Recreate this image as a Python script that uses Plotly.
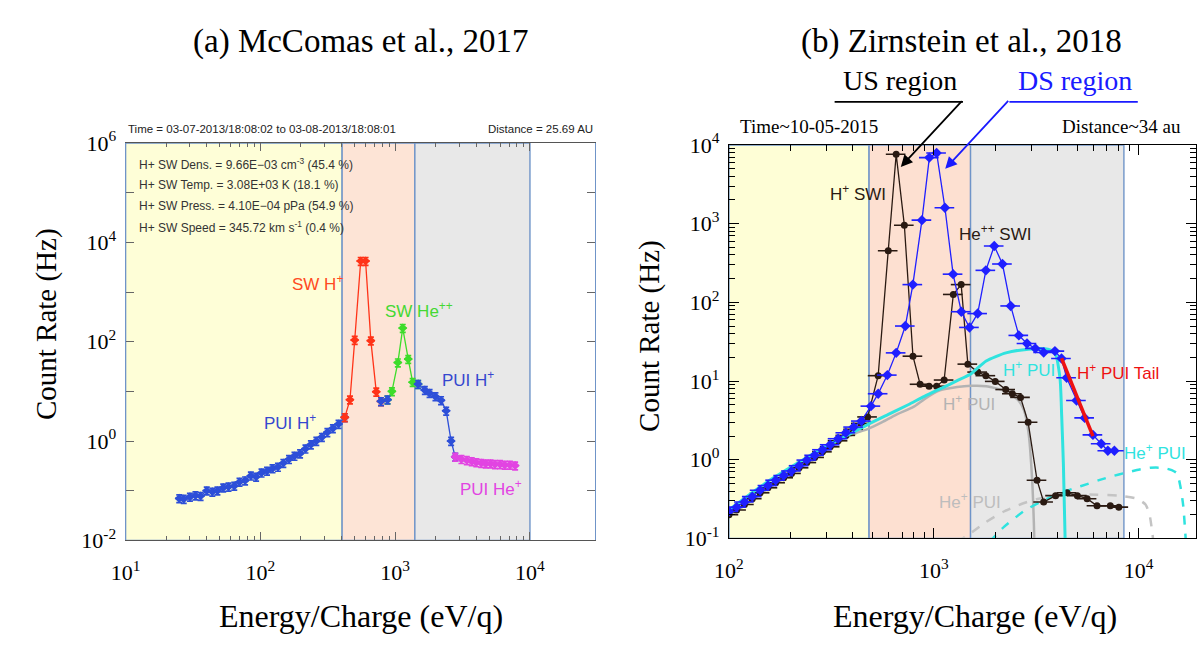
import plotly.graph_objects as go

# ---------------- panel (a): McComas et al., 2017 ----------------
a_region_edges = [10, 404, 1400, 10000]          # eV/q : yellow | orange | gray
a_y_span = [1e-2, 1e6]
a_pui_h_low_E = [25, 27, 30, 33, 36, 40, 44, 48, 53, 58, 64, 70, 77, 85, 93, 102, 112, 123,
                 135, 148, 163, 179, 197, 216, 237, 260, 286, 314, 345, 380, 423]
a_pui_h_low_C = [0.07, 0.068, 0.075, 0.08, 0.078, 0.1, 0.095, 0.1, 0.115, 0.12, 0.125, 0.15, 0.16,
                 0.2, 0.19, 0.23, 0.25, 0.28, 0.3, 0.36, 0.43, 0.5, 0.56, 0.7, 0.85, 1.0, 1.2, 1.5,
                 1.8, 2.2, 3.0]
a_sw_h_E = [423, 462, 501, 555, 603, 660, 724, 785]
a_sw_h_C = [3.0, 6.8, 108, 4200, 4200, 105, 9.8, 6.3]
a_mid_E = [785, 877]
a_mid_C = [6.3, 6.8]
a_sw_he_E = [877, 946, 1047, 1138, 1250, 1348, 1480]
a_sw_he_C = [6.8, 10, 38, 188, 44.6, 15.3, 14]
a_pui_h_high_E = [1480, 1660, 1800, 1990, 2190, 2390, 2600, 2790]
a_pui_h_high_C = [14, 10.6, 9.2, 7.9, 6.6, 4.06, 1.0, 0.48]
a_pui_he_E = [2790, 3100, 3400, 3700, 4000, 4350, 4700, 5100, 5500, 6000, 6500, 7100, 7760]
a_pui_he_C = [0.48, 0.43, 0.41, 0.39, 0.37, 0.36, 0.35, 0.35, 0.34, 0.34, 0.33, 0.33, 0.32]

# ---------------- panel (b): Zirnstein et al., 2018 ----------------
b_region_edges = [100, 483, 1511, 8470]
b_y_span = [1e-1, 1e4]
b_us_E = [100, 109, 119, 130, 142, 155, 169, 185, 202, 220, 240, 262, 286, 312, 341, 372, 406,
          443, 475, 535, 599, 655, 718, 791, 857, 948, 1032, 1123, 1245, 1360, 1466, 1637, 1795,
          1995, 2244, 2417, 2650, 2886, 3190, 3437, 3930, 4470, 5020, 5600, 6260, 7270, 8000]
b_us_C = [0.2, 0.23, 0.27, 0.32, 0.38, 0.44, 0.51, 0.59, 0.67, 0.79, 0.92, 1.07, 1.26, 1.46,
          1.74, 2.04, 2.44, 2.9, 3.5, 11.7, 453, 7600, 955, 20.7, 9.1, 8.6, 8.6, 10.3, 126, 168,
          16.4, 13, 11.7, 9.9, 7.8, 6.9, 6.2, 3.0, 0.55, 0.29, 0.35, 0.38, 0.35, 0.32, 0.26, 0.26,
          0.25]
b_ds_E = [100, 109, 119, 130, 142, 155, 169, 185, 202, 220, 240, 262, 286, 312, 341, 372, 406,
          443, 493, 535, 593, 655, 726, 790, 875, 951, 1032, 1133, 1242, 1362, 1493, 1637, 1795,
          1972, 2163, 2373, 2600, 2850, 3130, 3437, 3900, 4200, 4450, 4970, 5450, 5980, 6560,
          7070, 7610]
b_ds_C = [0.22, 0.25, 0.29, 0.34, 0.41, 0.47, 0.55, 0.63, 0.72, 0.84, 0.99, 1.14, 1.34, 1.55,
          1.85, 2.2, 2.6, 3.1, 4.8, 6.9, 11.9, 22.8, 50, 168, 1107, 6900, 7900, 1590, 228, 76, 48,
          72, 255, 521, 307, 90, 38, 30, 26, 23, 24, 19.3, 11, 5.65, 3.4, 2.07, 1.6, 1.3, 1.3]
b_tail_E = [4200, 5980]
b_tail_C = [19.5, 2.0]
b_hpui_ds_E = [100, 140, 170, 230, 300, 400, 475, 600, 750, 900, 1100, 1300, 1520, 1800, 2250,
               2900, 3600, 3900, 4130, 4210, 4290, 4400]
b_hpui_ds_C = [0.23, 0.44, 0.62, 1.0, 1.5, 2.2, 2.8, 3.77, 5.0, 6.4, 8.2, 10.1, 12.4, 18, 22.8,
               25.4, 25.4, 22.8, 10.8, 3.5, 0.88, 0.05]
b_hpui_us_E = [100, 150, 200, 260, 320, 366, 420, 475, 560, 650, 795, 900, 1070, 1300, 1520,
               1800, 2250, 2600, 2750, 2900, 3020, 3080, 3110]
b_hpui_us_C = [0.19, 0.4, 0.66, 1.0, 1.45, 1.85, 2.2, 2.45, 3.0, 3.7, 4.7, 5.9, 7.6, 8.4, 8.7,
               8.6, 7.4, 5.6, 4.3, 2.2, 0.55, 0.15, 0.05]
b_hepui_us_E = [1300, 1500, 1786, 2200, 2735, 3250, 4200, 5200, 6300, 8000, 9800, 10800, 11300,
                11600, 11800]
b_hepui_us_C = [0.09, 0.115, 0.16, 0.22, 0.28, 0.32, 0.35, 0.36, 0.36, 0.35, 0.32, 0.27, 0.2,
                0.13, 0.09]
b_hepui_ds_E = [1870, 2200, 2735, 3300, 4170, 5200, 6400, 8000, 9800, 11400, 13000, 14500,
                15400, 16000, 16500, 17000]
b_hepui_ds_C = [0.09, 0.14, 0.22, 0.29, 0.38, 0.46, 0.55, 0.65, 0.74, 0.79, 0.79, 0.74, 0.67,
                0.45, 0.26, 0.09]

# ---------------- helpers ----------------
W, H = 1200, 646
SERIF = "Liberation Serif"
SANS = "Liberation Sans"


def P(px, py):
    return px / W, 1 - py / H


def sup(n):
    return "10<sup>%d</sup>" % n


fig = go.Figure()

# ----- region shading (filled polygons in data space) -----
fills_a = ["#fefed7", "#fde4d6", "#e8e8e8"]
fills_b = ["#fefed6", "#fde0d1", "#e8e8e8"]
for edges, span, cols, xa, ya in [(a_region_edges, a_y_span, fills_a, "x", "y"),
                                  (b_region_edges, b_y_span, fills_b, "x2", "y2")]:
    for i in range(3):
        e0, e1 = edges[i], edges[i + 1]
        fig.add_trace(go.Scatter(
            x=[e0, e1, e1, e0, e0], y=[span[0], span[0], span[1], span[1], span[0]],
            xaxis=xa, yaxis=ya, mode="lines", fill="toself", fillcolor=cols[i],
            line=dict(color="#6f94c8", width=1.4), showlegend=False, hoverinfo="skip"))


def data_trace(E, C, color, xa, ya, symbol="diamond", size=6, lw=1.3,
               ex=7, ey=18, ebw=0, eth=1.4):
    fig.add_trace(go.Scatter(
        x=E, y=C, xaxis=xa, yaxis=ya, mode="lines+markers",
        line=dict(color=color, width=lw),
        marker=dict(symbol=symbol, size=size, color=color),
        error_x=dict(type="percent", value=ex, color=color, thickness=eth, width=0),
        error_y=dict(type="percent", value=ey, color=color, thickness=eth, width=ebw),
        showlegend=False, hoverinfo="skip"))


def model_trace(E, C, color, xa, ya, width=3, dash="solid"):
    fig.add_trace(go.Scatter(x=E, y=C, xaxis=xa, yaxis=ya, mode="lines",
                             line=dict(color=color, width=width, dash=dash, shape="spline",
                                       smoothing=0.6),
                             showlegend=False, hoverinfo="skip"))


# ----- panel (a) traces -----
BLUE_A = "#2d4fd8"
for E, C, col in [(a_pui_h_low_E, a_pui_h_low_C, BLUE_A),
                  (a_sw_h_E, a_sw_h_C, "#ff3318"),
                  (a_sw_he_E, a_sw_he_C, "#3ddc2a"),
                  (a_mid_E, a_mid_C, BLUE_A),
                  (a_pui_h_high_E, a_pui_h_high_C, BLUE_A),
                  (a_pui_he_E, a_pui_he_C, "#e244e2")]:
    data_trace(E, C, col, "x", "y", size=7, ebw=3, eth=1.7)

# ----- panel (b) traces -----
BLACK_B = "#2a1a12"
BLUE_B = "#1f1fff"
CYAN = "#2fe3df"
model_trace(b_hpui_us_E, b_hpui_us_C, "#b3b3b3", "x2", "y2", width=2.5)
model_trace(b_hepui_us_E, b_hepui_us_C, "#c4c4c4", "x2", "y2", width=2.5, dash="dash")
model_trace(b_hepui_ds_E, b_hepui_ds_C, CYAN, "x2", "y2", width=2.5, dash="dash")
data_trace(b_us_E, b_us_C, BLACK_B, "x2", "y2", symbol="circle", size=7, ex=11, ey=8, eth=1.6)
model_trace(b_hpui_ds_E, b_hpui_ds_C, CYAN, "x2", "y2", width=3)
data_trace(b_ds_E, b_ds_C, BLUE_B, "x2", "y2", symbol="diamond", size=8, ex=11, ey=8, eth=1.6)
fig.add_trace(go.Scatter(x=b_tail_E, y=b_tail_C, xaxis="x2", yaxis="y2", mode="lines",
                         line=dict(color="#ee1111", width=3.5), showlegend=False,
                         hoverinfo="skip"))

# US / DS callout underlines
shapes = []
for (xa, xb, col) in [(830, 960, "black"), (1007, 1137, "#1a1aff")]:
    x0, y0 = P(xa, 90)
    x1, _ = P(xb, 90)
    shapes.append(dict(type="line", xref="paper", yref="paper", x0=x0, x1=x1, y0=y0, y1=y0,
                       line=dict(color=col, width=1.8)))


# ----- axes -----
def decade_vals(lo, hi, step=1):
    return [10.0 ** k for k in range(lo, hi + 1, step)]


def minor_vals(lo, hi):
    return [m * 10.0 ** k for k in range(lo, hi) for m in range(2, 10)]


axis_common = dict(type="log", showgrid=False, zeroline=False, showline=True,
                   ticks="inside", mirror="ticks",
                   tickfont=dict(family=SERIF, size=22, color="black"))

fig.update_layout(
    xaxis=dict(axis_common, domain=[112 / W, 587 / W], range=[1, 4.48], anchor="y",
               linecolor="#555", tickcolor="#666", ticklen=8,
               tickvals=decade_vals(1, 4), ticktext=[sup(k) for k in range(1, 5)],
               ticklabelstandoff=12,
               minor=dict(tickmode="array", tickvals=minor_vals(1, 4), ticks="inside",
                          ticklen=4, tickcolor="#666")),
    yaxis=dict(axis_common, domain=[1 - 549 / H, 1 - 133 / H], range=[-2, 6], anchor="x",
               linecolor="#6f94c8", tickcolor="#666", ticklen=8,
               tickvals=decade_vals(-2, 6, 2), ticktext=[sup(k) for k in range(-2, 7, 2)],
               ticklabelstandoff=4,
               minor=dict(tickmode="array", tickvals=decade_vals(-1, 5, 2), ticks="inside",
                          ticklen=8, tickcolor="#666")),
    xaxis2=dict(axis_common, domain=[723 / W, 1196 / W], range=[2, 4.28], anchor="y2",
                linecolor="black", tickcolor="black", ticklen=10,
                tickvals=decade_vals(2, 4), ticktext=[sup(k) for k in range(2, 5)],
                ticklabelstandoff=12,
                minor=dict(tickmode="array", tickvals=minor_vals(2, 4), ticks="inside",
                           ticklen=6, tickcolor="black")),
    yaxis2=dict(axis_common, domain=[1 - 547 / H, 1 - 135 / H], range=[-1, 4], anchor="x2",
                linecolor="black", tickcolor="black", ticklen=10,
                tickvals=decade_vals(-1, 4), ticktext=[sup(k) for k in range(-1, 5)],
                ticklabelstandoff=4,
                minor=dict(tickmode="array", tickvals=minor_vals(-1, 4), ticks="inside",
                           ticklen=6, tickcolor="black")),
    width=W, height=H, margin=dict(l=0, r=0, t=0, b=0),
    paper_bgcolor="white", plot_bgcolor="white", showlegend=False,
    shapes=shapes,
)

# ----- annotations -----
ann = []


def text(px, py, s, size, color="black", family=SERIF, xanchor="center", angle=0):
    x, y = P(px, py)
    ann.append(dict(x=x, y=y, xref="paper", yref="paper", text=s, showarrow=False,
                    xanchor=xanchor, yanchor="middle", textangle=angle,
                    font=dict(family=family, size=size, color=color)))


# titles
text(350, 27, "(a) McComas et al., 2017", 33)
text(958, 27, "(b) Zirnstein et al., 2018", 33)
# axis titles
text(32, 323, "Count Rate (Hz)", 29, angle=-90)
text(643, 335, "Count Rate (Hz)", 29, angle=-90)
text(350, 628, "Energy/Charge (eV/q)", 32)
text(972, 628, "Energy/Charge (eV/q)", 32)

# panel (a) header + parameters
text(112, 118, "Time = 03-07-2013/18:08:02 to 03-08-2013/18:08:01", 11.5, "#222", SANS, "left")
text(587, 118, "Distance = 25.69 AU", 11.5, "#222", SANS, "right")
for i, s in enumerate(["H+ SW Dens. = 9.66E\u221203 cm<sup>-3</sup> (45.4 %)",
                       "H+ SW Temp. = 3.08E+03 K (18.1 %)",
                       "H+ SW Press. = 4.10E\u221204 pPa (54.9 %)",
                       "H+ SW Speed = 345.72 km s<sup>-1</sup> (0.4 %)"]):
    text(124, 155 + i * 22, s, 12, "#333", SANS, "left")

# panel (a) species labels
text(306, 280, "SW H<sup>+</sup>", 17, "#ff4a22", SANS)
text(409, 308, "SW He<sup>++</sup>", 17, "#44d833", SANS)
text(278, 425, "PUI H<sup>+</sup>", 17, "#3547cf", SANS)
text(459, 380, "PUI H<sup>+</sup>", 17, "#3547cf", SANS)
text(482, 494, "PUI He<sup>+</sup>", 17, "#e244e2", SANS)

# panel (b) header
text(732, 116, "Time~10-05-2015", 19, "black", SERIF, "left")
text(1183, 116, "Distance~34 au", 19, "black", SERIF, "right")
text(896, 68, "US region", 28, "black")
text(1073, 68, "DS region", 28, "#1a1aff")

# panel (b) species labels
text(854, 185, "H<sup>+</sup> SWI", 17, "#2a1a12", SANS)
text(992, 227, "He<sup>++</sup> SWI", 17, "#2a1a12", SANS)
text(1027, 370, "H<sup>+</sup> PUI", 17, "#2fe3df", SANS)
text(1117, 373, "H<sup>+</sup> PUI Tail", 17, "#ee1111", SANS)
text(1154, 457, "He<sup>+</sup> PUI", 17, "#2fe3df", SANS)
text(966, 405, "H<sup>+</sup> PUI", 17, "#b3b3b3", SANS)
text(967, 508, "He<sup>+</sup> PUI", 17, "#bdbdbd", SANS)

# callout arrows
for (hx, hy, tx, ty, col) in [(897, 158, 960, 90, "black"), (942, 160, 1007, 90, "#1a1aff")]:
    x, y = P(hx, hy)
    ann.append(dict(x=x, y=y, xref="paper", yref="paper", text=" ", showarrow=True,
                    ax=tx - hx, ay=ty - hy, axref="pixel", ayref="pixel",
                    arrowhead=2, arrowsize=1.3, arrowwidth=1.8, arrowcolor=col, standoff=0,
                    font=dict(size=2)))

fig.update_layout(annotations=ann)
fig.write_html("out.html",
               config={"displayModeBar": False, "staticPlot": True},
               post_script="document.body.style.margin='0';"
                           "document.body.style.overflow='hidden';")
